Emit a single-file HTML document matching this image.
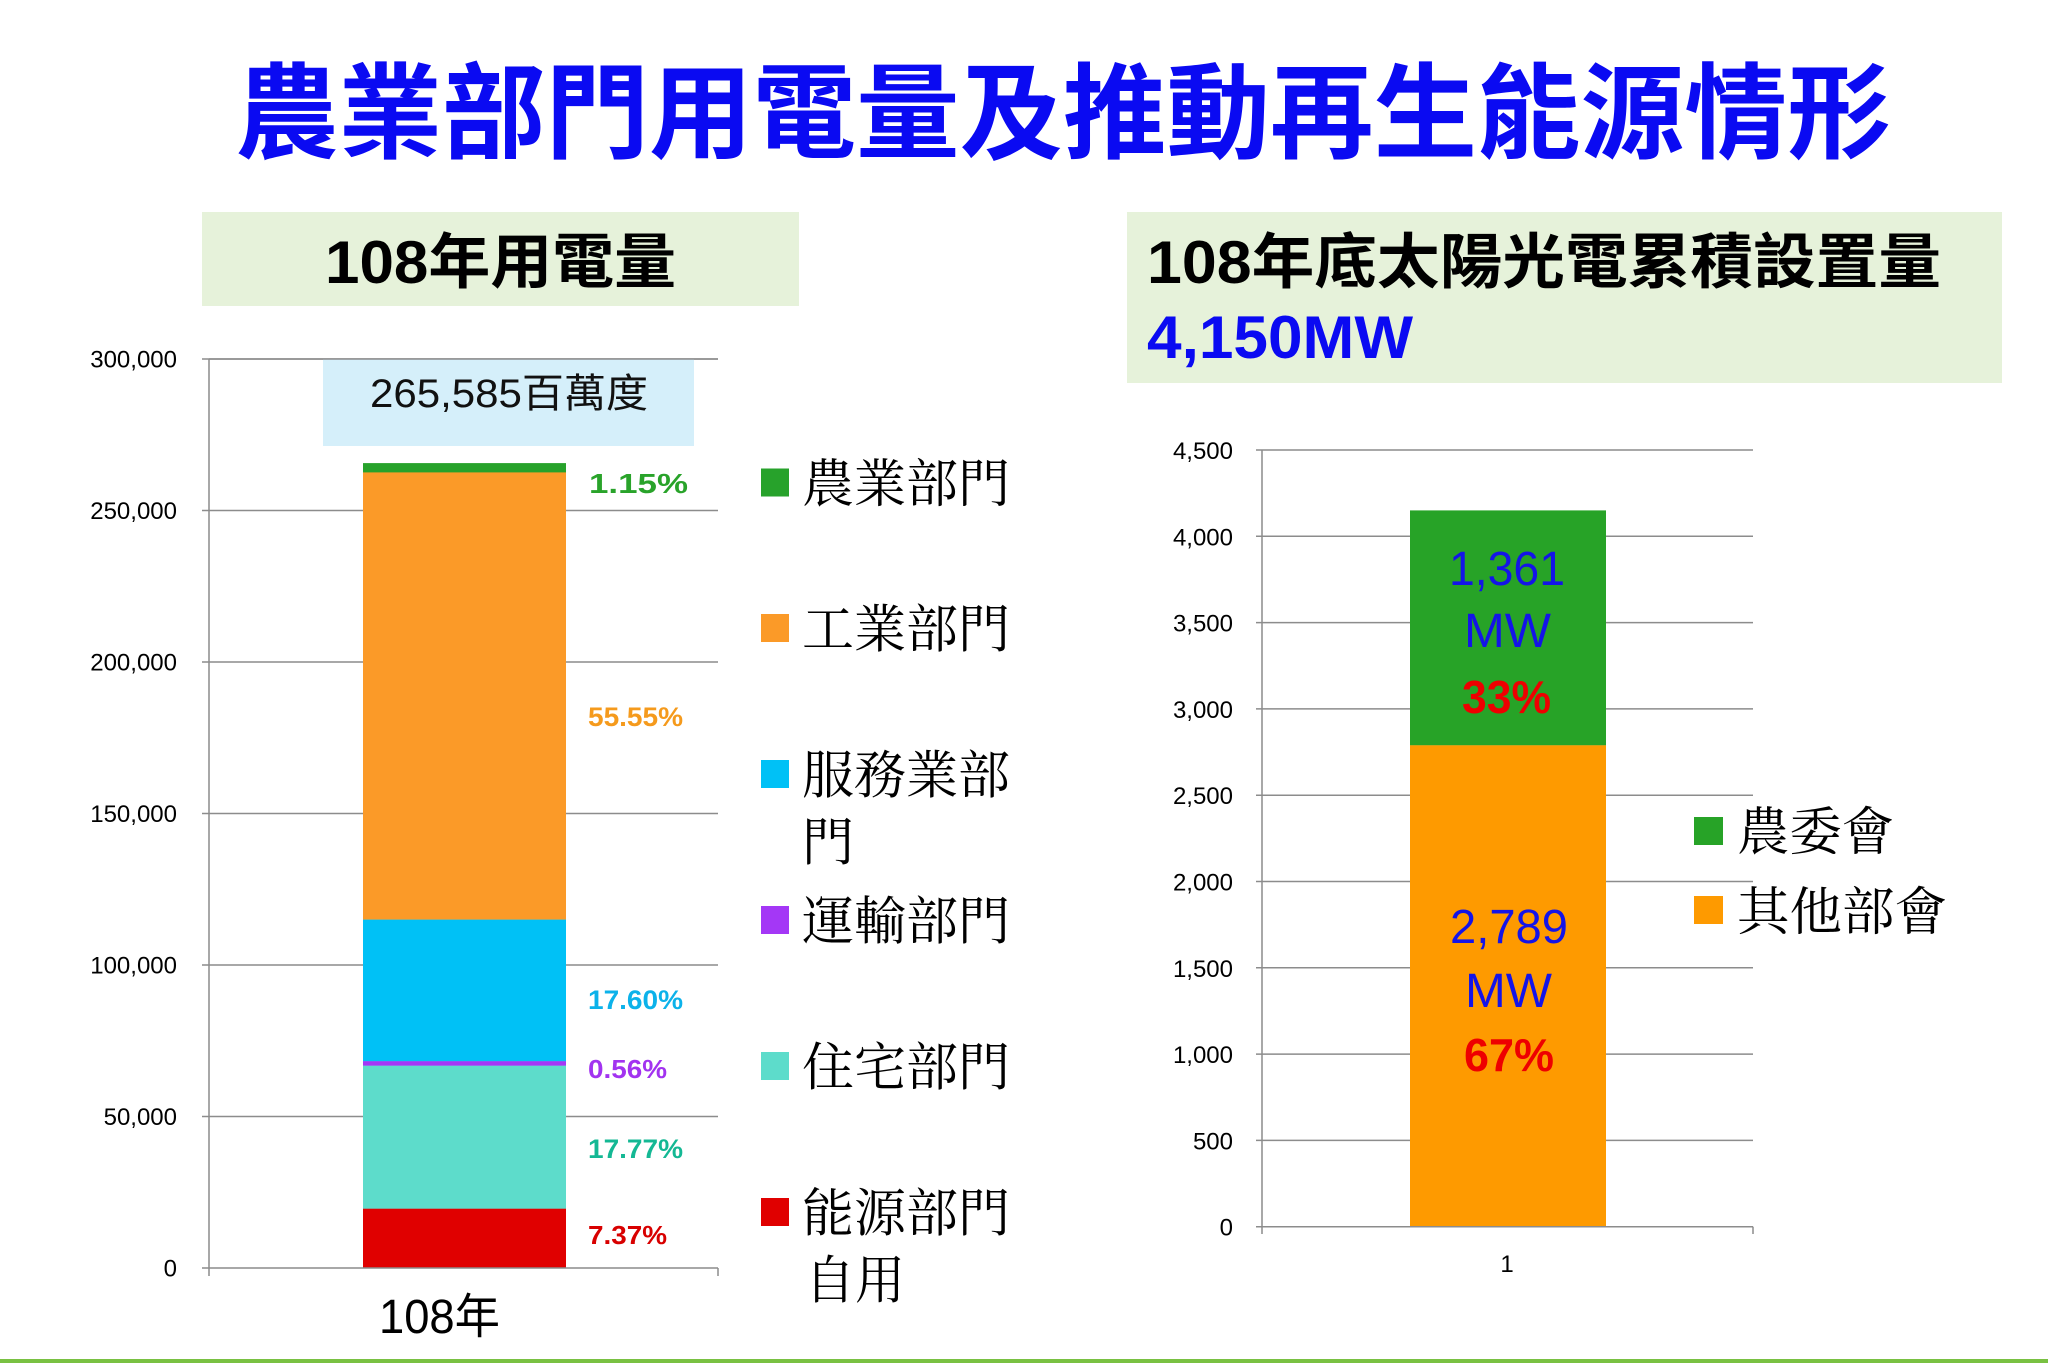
<!DOCTYPE html>
<html>
<head>
<meta charset="utf-8">
<style>
html,body{margin:0;padding:0;background:#fff;}
svg{display:block;}
.sans{font-family:"Liberation Sans","Noto Sans CJK TC",sans-serif;}
.serif{font-family:"Liberation Serif","Noto Serif CJK SC",serif;}
</style>
</head>
<body>
<svg width="2048" height="1363" viewBox="0 0 2048 1363" xmlns="http://www.w3.org/2000/svg">
  <rect x="0" y="0" width="2048" height="1363" fill="#ffffff"/>

  <!-- Title -->
  <text class="sans" x="235" y="150" font-size="104" font-weight="bold" fill="#0a0af2" textLength="1656" lengthAdjust="spacingAndGlyphs">農業部門用電量及推動再生能源情形</text>

  <!-- Left header -->
  <rect x="202" y="212" width="597" height="94" fill="#e6f2da"/>
  <text class="sans" x="325" y="283" font-size="60" font-weight="bold" fill="#000" textLength="351" lengthAdjust="spacingAndGlyphs">108年用電量</text>

  <!-- Right header -->
  <rect x="1127" y="212" width="875" height="171" fill="#e6f2da"/>
  <text class="sans" x="1147" y="283" font-size="60" font-weight="bold" fill="#000" textLength="794" lengthAdjust="spacingAndGlyphs">108年底太陽光電累積設置量</text>
  <text class="sans" x="1147" y="358" font-size="60" font-weight="bold" fill="#0a0af2" textLength="266" lengthAdjust="spacingAndGlyphs">4,150MW</text>

  <!-- ============ LEFT CHART ============ -->
  <g stroke="#8c8c8c" stroke-width="1.5">
    <line x1="202" y1="359" x2="718" y2="359"/>
    <line x1="202" y1="510.5" x2="718" y2="510.5"/>
    <line x1="202" y1="662" x2="718" y2="662"/>
    <line x1="202" y1="813.5" x2="718" y2="813.5"/>
    <line x1="202" y1="965" x2="718" y2="965"/>
    <line x1="202" y1="1116.5" x2="718" y2="1116.5"/>
  </g>
  <!-- label box -->
  <rect x="323" y="359" width="371" height="87" fill="#d5effa"/>
  <line x1="209" y1="359" x2="718" y2="359" stroke="#8c8c8c" stroke-width="1.5"/>
  <text class="sans" x="370" y="407" font-size="40" fill="#111" textLength="278" lengthAdjust="spacingAndGlyphs">265,585百萬度</text>

  <!-- bar -->
  <rect x="363" y="463.1" width="203" height="9.6" fill="#27a22b"/>
  <rect x="363" y="472.4" width="203" height="447.4" fill="#fb9a28"/>
  <rect x="363" y="919.6" width="203" height="141.8" fill="#00c1f6"/>
  <rect x="363" y="1061.2" width="203" height="4.7" fill="#a437f6"/>
  <rect x="363" y="1065.7" width="203" height="143.2" fill="#5ddccb"/>
  <rect x="363" y="1208.7" width="203" height="59.3" fill="#e00000"/>

  <!-- axes -->
  <g stroke="#8c8c8c" stroke-width="1.5">
    <line x1="209" y1="359" x2="209" y2="1276"/>
    <line x1="202" y1="1268" x2="718" y2="1268"/>
    <line x1="718" y1="1268" x2="718" y2="1276"/>
  </g>

  <!-- y tick labels -->
  <g class="sans" font-size="24" fill="#000" text-anchor="end">
    <text x="177" y="367.5">300,000</text>
    <text x="177" y="519">250,000</text>
    <text x="177" y="670.5">200,000</text>
    <text x="177" y="822">150,000</text>
    <text x="177" y="973.5">100,000</text>
    <text x="177" y="1125">50,000</text>
    <text x="177" y="1276.5">0</text>
  </g>

  <!-- x label -->
  <text class="sans" x="379" y="1333" font-size="48" fill="#000" textLength="121" lengthAdjust="spacingAndGlyphs">108年</text>

  <!-- percent labels -->
  <g class="sans" font-weight="bold">
    <text x="589" y="493" font-size="28" fill="#29a32a" textLength="99" lengthAdjust="spacingAndGlyphs">1.15%</text>
    <text x="588" y="726" font-size="27" fill="#f59a1c" textLength="95" lengthAdjust="spacingAndGlyphs">55.55%</text>
    <text x="588" y="1009" font-size="27" fill="#0cb2ea" textLength="95" lengthAdjust="spacingAndGlyphs">17.60%</text>
    <text x="588" y="1078" font-size="26" fill="#a233f0" textLength="79" lengthAdjust="spacingAndGlyphs">0.56%</text>
    <text x="588" y="1158" font-size="27" fill="#14b894" textLength="95" lengthAdjust="spacingAndGlyphs">17.77%</text>
    <text x="588" y="1244" font-size="26" fill="#d80000" textLength="79" lengthAdjust="spacingAndGlyphs">7.37%</text>
  </g>

  <!-- left legend -->
  <rect x="761" y="468.5" width="28" height="28" fill="#27a22b"/>
  <rect x="761" y="614" width="28" height="28" fill="#fb9a28"/>
  <rect x="761" y="760" width="28" height="28" fill="#00c1f6"/>
  <rect x="761" y="906" width="28" height="28" fill="#a437f6"/>
  <rect x="761" y="1052" width="28" height="28" fill="#5ddccb"/>
  <rect x="761" y="1198" width="28" height="28" fill="#e00000"/>
  <g class="serif" font-size="52" fill="#000">
    <text x="802" y="502" textLength="208" lengthAdjust="spacingAndGlyphs">農業部門</text>
    <text x="802" y="647.5" textLength="208" lengthAdjust="spacingAndGlyphs">工業部門</text>
    <text x="802" y="793.5" textLength="208" lengthAdjust="spacingAndGlyphs">服務業部</text>
    <text x="802" y="860.5">門</text>
    <text x="802" y="939.5" textLength="208" lengthAdjust="spacingAndGlyphs">運輸部門</text>
    <text x="802" y="1085.5" textLength="208" lengthAdjust="spacingAndGlyphs">住宅部門</text>
    <text x="802" y="1231.5" textLength="208" lengthAdjust="spacingAndGlyphs">能源部門</text>
    <text x="805" y="1298.5" textLength="100" lengthAdjust="spacingAndGlyphs">自用</text>
  </g>

  <!-- ============ RIGHT CHART ============ -->
  <g stroke="#8c8c8c" stroke-width="1.5">
    <line x1="1256" y1="450" x2="1753" y2="450"/>
    <line x1="1256" y1="536.3" x2="1753" y2="536.3"/>
    <line x1="1256" y1="622.6" x2="1753" y2="622.6"/>
    <line x1="1256" y1="708.9" x2="1753" y2="708.9"/>
    <line x1="1256" y1="795.2" x2="1753" y2="795.2"/>
    <line x1="1256" y1="881.5" x2="1753" y2="881.5"/>
    <line x1="1256" y1="967.8" x2="1753" y2="967.8"/>
    <line x1="1256" y1="1054.1" x2="1753" y2="1054.1"/>
    <line x1="1256" y1="1140.4" x2="1753" y2="1140.4"/>
  </g>
  <rect x="1410" y="510.4" width="196" height="235" fill="#27a327"/>
  <rect x="1410" y="745.3" width="196" height="481.4" fill="#fe9a00"/>
  <g stroke="#8c8c8c" stroke-width="1.5">
    <line x1="1262" y1="450" x2="1262" y2="1234"/>
    <line x1="1256" y1="1226.7" x2="1753" y2="1226.7"/>
    <line x1="1753" y1="1226.7" x2="1753" y2="1234"/>
  </g>
  <g class="sans" font-size="24" fill="#000" text-anchor="end">
    <text x="1233" y="459">4,500</text>
    <text x="1233" y="545.3">4,000</text>
    <text x="1233" y="631.6">3,500</text>
    <text x="1233" y="717.9">3,000</text>
    <text x="1233" y="804.2">2,500</text>
    <text x="1233" y="890.5">2,000</text>
    <text x="1233" y="976.8">1,500</text>
    <text x="1233" y="1063.1">1,000</text>
    <text x="1233" y="1149.4">500</text>
    <text x="1233" y="1235.7">0</text>
  </g>
  <text class="sans" x="1507" y="1272" font-size="24" fill="#000" text-anchor="middle">1</text>

  <!-- bar labels -->
  <g class="sans">
    <text x="1449" y="585" font-size="48" fill="#1414e8" textLength="116" lengthAdjust="spacingAndGlyphs">1,361</text>
    <text x="1464" y="647" font-size="48" fill="#1414e8" textLength="87" lengthAdjust="spacingAndGlyphs">MW</text>
    <text x="1462" y="713" font-size="46" font-weight="bold" fill="#ee0000" textLength="89" lengthAdjust="spacingAndGlyphs">33%</text>
    <text x="1450" y="943" font-size="48" fill="#1414e8" textLength="118" lengthAdjust="spacingAndGlyphs">2,789</text>
    <text x="1465" y="1007" font-size="48" fill="#1414e8" textLength="87" lengthAdjust="spacingAndGlyphs">MW</text>
    <text x="1464" y="1071" font-size="46" font-weight="bold" fill="#ee0000" textLength="90" lengthAdjust="spacingAndGlyphs">67%</text>
  </g>

  <!-- right legend -->
  <rect x="1694" y="817" width="29" height="28" fill="#27a327"/>
  <rect x="1694" y="896" width="29" height="28" fill="#fe9a00"/>
  <g class="serif" font-size="52" fill="#000">
    <text x="1737" y="850" textLength="157" lengthAdjust="spacingAndGlyphs">農委會</text>
    <text x="1737" y="930" textLength="210" lengthAdjust="spacingAndGlyphs">其他部會</text>
  </g>

  <!-- bottom green line -->
  <rect x="0" y="1359" width="2048" height="4" fill="#79c142"/>
</svg>
</body>
</html>
